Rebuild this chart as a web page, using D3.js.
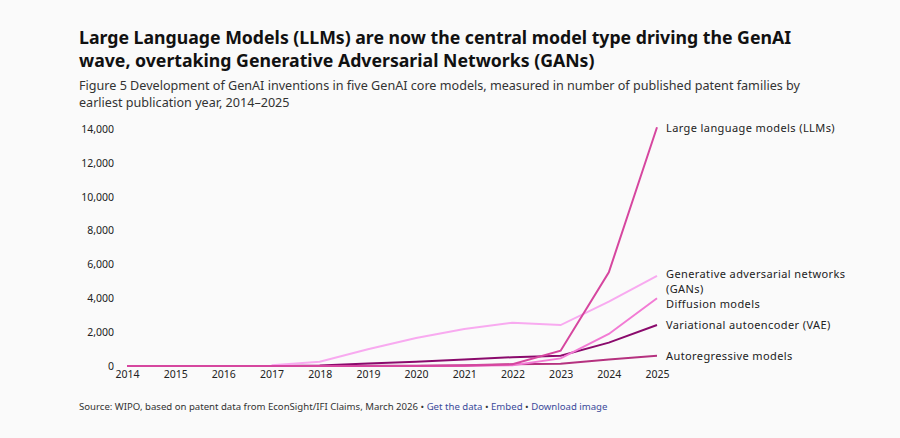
<!DOCTYPE html>
<html>
<head>
<meta charset="utf-8">
<script src="https://cdn.jsdelivr.net/npm/d3@7"></script>
<style>
  body { margin: 0; background: #fafafa; font-family: "Noto Sans", sans-serif; }
  svg { display: block; }
</style>
</head>
<body>
<svg id="chart"></svg>
<script>
const years = [2014, 2015, 2016, 2017, 2018, 2019, 2020, 2021, 2022, 2023, 2024, 2025];
const yTicks = [0, 2000, 4000, 6000, 8000, 10000, 12000, 14000];

// values per series (null = no data that year)
const llm = [0, 0, 0, 0, 0, 0, 0, 20, 100, 900, 5530, 14100];
const gan = [null, null, null, 50, 250, 990, 1650, 2180, 2560, 2420, 3800, 5330];
const diffusion = [0, 0, 0, 0, 0, 0, 0, 10, 50, 450, 1890, 4000];
const vae = [null, null, null, 0, 30, 150, 250, 380, 520, 610, 1380, 2420];
const autoregressive = [0, 0, 0, 0, 0, 10, 20, 50, 100, 130, 390, 610];

const seriesNames = ['Autoregressive models', 'Variational autoencoder (VAE)', 'Diffusion models',
    'Generative adversarial networks (GANs)', 'Large language models (LLMs)'];
const seriesValues = [autoregressive, vae, diffusion, gan, llm];
const seriesColors = ['#b5317f', '#8a0a6c', '#f27bd4', '#f8aaf0', '#d6469f'];

const W = 900, H = 438;
const svg = d3.select('#chart').attr('width', W).attr('height', H);

// titles
svg.append('text').attr('x', 79).attr('y', 44)
    .style('font-size', '17.7px').style('font-weight', 700).attr('fill', '#111')
    .text('Large Language Models (LLMs) are now the central model type driving the GenAI');
svg.append('text').attr('x', 79).attr('y', 67)
    .style('font-size', '17.7px').style('font-weight', 700).attr('fill', '#111')
    .text('wave, overtaking Generative Adversarial Networks (GANs)');
svg.append('text').attr('x', 79).attr('y', 90)
    .style('font-size', '12.6px').attr('fill', '#333')
    .text('Figure 5 Development of GenAI inventions in five GenAI core models, measured in number of published patent families by');
svg.append('text').attr('x', 79).attr('y', 107)
    .style('font-size', '12.6px').attr('fill', '#333')
    .text('earliest publication year, 2014\u20132025');

// scales
const x = d3.scaleLinear().domain([2014, 2025]).range([127, 657]);
const y = d3.scaleLinear().domain([0, 14000]).range([366, 129]);

// Y axis
svg.append('g')
    .attr('transform', 'translate(114,0)')
    .call(d3.axisLeft(y).tickValues(yTicks).tickSize(0).tickPadding(0).tickFormat(d3.format(',')))
    .call(g => g.select('.domain').remove())
    .call(g => g.selectAll('text').attr('fill', '#222').style('font-size', '10.5px').style('font-family', '"Noto Sans", sans-serif'));

// X axis
svg.append('g')
    .attr('transform', 'translate(0,371)')
    .call(d3.axisBottom(x).tickValues(years).tickSize(0).tickPadding(0).tickFormat(d3.format('d')))
    .call(g => g.select('.domain').remove())
    .call(g => g.selectAll('text').attr('fill', '#222').style('font-size', '10.5px').style('font-family', '"Noto Sans", sans-serif'));

// lines
const line = d3.line()
    .defined(d => d.v !== null)
    .x(d => x(d.year))
    .y(d => y(d.v));

seriesValues.forEach((vals, i) => {
    const pts = years.map((yr, j) => ({year: yr, v: vals[j]}));
    svg.append('path')
        .datum(pts)
        .attr('fill', 'none')
        .attr('stroke', seriesColors[i])
        .attr('stroke-width', 2)
        .attr('d', line);
});

// end labels
const labelY = {
    'Large language models (LLMs)': [128],
    'Generative adversarial networks (GANs)': [274, 289],
    'Diffusion models': [304],
    'Variational autoencoder (VAE)': [325],
    'Autoregressive models': [356]
};
const labelLines = {
    'Generative adversarial networks (GANs)': ['Generative adversarial networks', '(GANs)']
};
seriesNames.forEach(name => {
    const lines = labelLines[name] || [name];
    lines.forEach((s, k) => {
        svg.append('text')
            .attr('x', 666)
            .attr('y', labelY[name][k])
            .attr('dy', '0.35em')
            .style('font-size', '11px')
            .style('letter-spacing', '0.4px')
            .attr('fill', '#222')
            .text(s);
    });
});

// source
const src = svg.append('text').attr('x', 79).attr('y', 410).style('font-size', '9.6px');
src.append('tspan').attr('fill', '#333').text('Source: WIPO, based on patent data from EconSight/IFI Claims, March 2026 \u2022 ');
src.append('tspan').attr('fill', '#3a4a9a').text('Get the data');
src.append('tspan').attr('fill', '#333').text(' \u2022 ');
src.append('tspan').attr('fill', '#3a4a9a').text('Embed');
src.append('tspan').attr('fill', '#333').text('  \u2022 ');
src.append('tspan').attr('fill', '#3a4a9a').text('Download image');
</script>
</body>
</html>
